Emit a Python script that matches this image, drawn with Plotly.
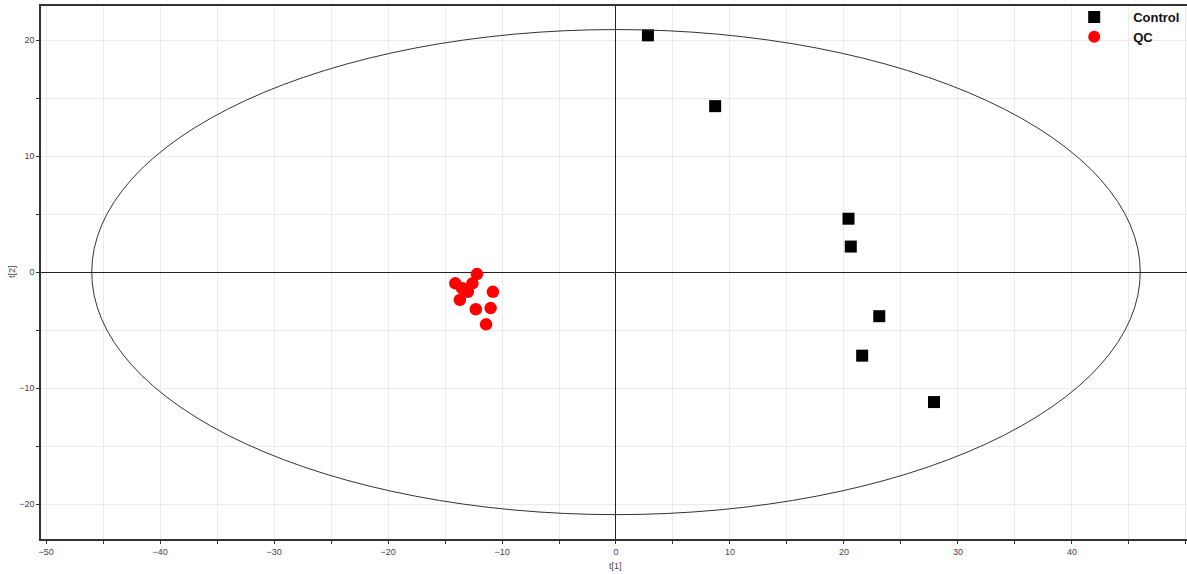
import plotly.graph_objects as go

control_t1 = [2.8, 8.7, 20.4, 20.6, 23.1, 21.6, 27.9]
control_t2 = [20.4, 14.3, 4.6, 2.2, -3.8, -7.2, -11.2]

qc_t1 = [-14.1, -12.2, -12.6, -13.0, -13.7, -10.8, -12.3, -11.0, -11.4, -13.5]
qc_t2 = [-0.97, -0.17, -0.97, -1.7, -2.4, -1.7, -3.2, -3.1, -4.5, -1.4]

ellipse_a = 46.0
ellipse_b = 20.9

fig = go.Figure()
fig.add_trace(go.Scatter(x=control_t1, y=control_t2, mode="markers", name="Control",
                         marker=dict(symbol="square", size=12, color="black")))
fig.add_trace(go.Scatter(x=qc_t1, y=qc_t2, mode="markers", name="QC",
                         marker=dict(symbol="circle", size=12.5, color="#ff0000")))

fig.add_shape(type="circle", xref="x", yref="y", x0=-ellipse_a, x1=ellipse_a,
              y0=-ellipse_b, y1=ellipse_b, line=dict(color="#333333", width=1))

axis_common = dict(
    automargin=False,
    showline=True, linecolor="#333333", linewidth=1.5, mirror=True,
    showgrid=True, gridcolor="#ebebeb", gridwidth=1,
    zeroline=True, zerolinecolor="#222222", zerolinewidth=1,
    ticks="outside", ticklen=3, tickcolor="#333333",
    dtick=10, tickfont=dict(family="Arial", size=9, color="#444444"),
    minor=dict(dtick=5, ticks="outside", ticklen=3, tickcolor="#333333",
               showgrid=True, gridcolor="#ebebeb"),
)

fig.update_xaxes(range=[-50.45, 50.1], **axis_common)
fig.update_yaxes(range=[-23.0, 22.93], **axis_common)

title_font = dict(family="Arial", size=9, color="#444444")
fig.add_annotation(text="t[1]", xref="x", yref="paper", x=0, y=0, yshift=-20,
                   yanchor="top", showarrow=False, font=title_font)
fig.add_annotation(text="t[2]", xref="paper", yref="y", x=0, y=0, xshift=-29,
                   xanchor="center", textangle=-90, showarrow=False, font=title_font)

fig.update_layout(
    width=1187, height=574,
    margin=dict(l=41, r=0, t=6, b=35),
    plot_bgcolor="white", paper_bgcolor="white",
    legend=dict(x=0.885, y=1.0075, xanchor="left", yanchor="top",
                font=dict(family="Arial", size=13, color="#111111", weight="bold"),
                bgcolor="rgba(0,0,0,0)", tracegroupgap=0, itemsizing="constant",
                itemwidth=68),
)

fig.write_html("out.html", config={"displayModeBar": False},
               post_script="document.body.style.margin='0';document.body.style.overflow='hidden';")
